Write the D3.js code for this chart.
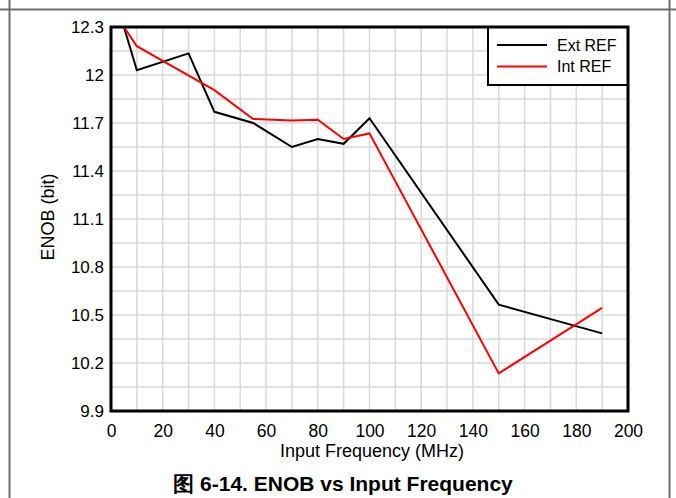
<!DOCTYPE html>
<html>
<head>
<meta charset="utf-8">
<script src="https://cdn.jsdelivr.net/npm/d3@7"></script>
<style>
  body { margin: 0; background: #fff; }
  svg { display: block; font-family: "Liberation Sans", Arial, sans-serif; }
</style>
</head>
<body>
<script>
// chart data
const extFreq = [5, 10, 30, 40, 55, 70, 80, 90, 100, 150, 190];
const extEnob = [12.3, 12.03, 12.135, 11.77, 11.7, 11.55, 11.6, 11.57, 11.73, 10.565, 10.385];
const intFreq = [5, 10, 40, 55, 70, 80, 90, 100, 150, 190];
const intEnob = [12.3, 12.18, 11.905, 11.725, 11.715, 11.72, 11.6, 11.635, 10.135, 10.545];
const xTicks = [0, 20, 40, 60, 80, 100, 120, 140, 160, 180, 200];
const yTicks = [9.9, 10.2, 10.5, 10.8, 11.1, 11.4, 11.7, 12, 12.3];
const seriesNames = ["Ext REF", "Int REF"];
const seriesColors = ["#000000", "#ff0000"];

const width = 676;
const height = 498;
const margin = { top: 27, right: 48, bottom: 87, left: 111 };

let svg = d3.select("body")
    .append("svg")
    .attr("width", width)
    .attr("height", height);

// page frame lines
svg.append("line").attr("x1", 0).attr("x2", width).attr("y1", 9.5).attr("y2", 9.5)
    .attr("stroke", "#6f6f6f").attr("stroke-width", 2);
svg.append("line").attr("x1", 9.5).attr("x2", 9.5).attr("y1", 0).attr("y2", height)
    .attr("stroke", "#6f6f6f").attr("stroke-width", 2);
svg.append("line").attr("x1", 669.5).attr("x2", 669.5).attr("y1", 0).attr("y2", height)
    .attr("stroke", "#6f6f6f").attr("stroke-width", 2);

let xScale = d3.scaleLinear()
    .domain([0, 200])
    .range([margin.left, width - margin.right]);

let yScale = d3.scaleLinear()
    .domain([9.9, 12.3])
    .range([height - margin.bottom, margin.top]);

// grid
let grid = svg.append("g").attr("stroke", "#d9d9d9").attr("stroke-width", 1.5);
grid.selectAll("line.gx")
    .data(d3.range(10, 200, 10))
    .join("line")
    .attr("class", "gx")
    .attr("x1", d => xScale(d)).attr("x2", d => xScale(d))
    .attr("y1", yScale(9.9)).attr("y2", yScale(12.3));
grid.selectAll("line.gy")
    .data(d3.range(1, 16).map(i => 9.9 + i * 0.15))
    .join("line")
    .attr("class", "gy")
    .attr("y1", d => yScale(d)).attr("y2", d => yScale(d))
    .attr("x1", xScale(0)).attr("x2", xScale(200));

// axes
let bottomAxis = d3.axisBottom(xScale).tickValues(xTicks).tickSize(0).tickPadding(14);
let leftAxis = d3.axisLeft(yScale).tickValues(yTicks).tickSize(0).tickPadding(7)
    .tickFormat(d => d3.format("")(+d.toFixed(1)));

svg.append("g")
    .attr("transform", `translate(0, ${height - margin.bottom})`)
    .call(bottomAxis)
    .call(g => g.select(".domain").remove())
    .selectAll("text").style("font-size", "17.5px").attr("fill", "#000");

svg.append("g")
    .attr("transform", `translate(${margin.left}, 0)`)
    .call(leftAxis)
    .call(g => g.select(".domain").remove())
    .selectAll("text").style("font-size", "17px").attr("fill", "#000");

// lines
let line = d3.line().x(d => xScale(d[0])).y(d => yScale(d[1]));
let series = [
    d3.zip(extFreq, extEnob),
    d3.zip(intFreq, intEnob)
];
svg.selectAll("path.series")
    .data(series)
    .join("path")
    .attr("class", "series")
    .attr("d", line)
    .attr("fill", "none")
    .attr("stroke", (d, i) => seriesColors[i])
    .attr("stroke-width", 2);

// legend
let lg = svg.append("g");
lg.append("rect")
    .attr("x", 488).attr("y", margin.top)
    .attr("width", xScale(200) - 488).attr("height", 58)
    .attr("fill", "#fff").attr("stroke", "#000").attr("stroke-width", 2);
seriesNames.forEach((name, i) => {
    let y = 45 + i * 21.5;
    lg.append("line").attr("x1", 497).attr("x2", 547).attr("y1", y).attr("y2", y)
        .attr("stroke", seriesColors[i]).attr("stroke-width", 2);
    lg.append("text").attr("x", 557).attr("y", y + 5.5).text(name)
        .style("font-size", "16px");
});

// plot border
svg.append("rect")
    .attr("x", xScale(0)).attr("y", yScale(12.3))
    .attr("width", xScale(200) - xScale(0))
    .attr("height", yScale(9.9) - yScale(12.3))
    .attr("fill", "none").attr("stroke", "#000").attr("stroke-width", 3);

// titles
svg.append("text")
    .text("Input Frequency (MHz)")
    .style("font-size", "18px")
    .attr("text-anchor", "middle")
    .attr("x", 372).attr("y", 457);

svg.append("text")
    .text("ENOB (bit)")
    .style("font-size", "18px")
    .attr("text-anchor", "middle")
    .attr("transform", `translate(54, ${yScale(11.1) - 2}) rotate(270)`);

svg.append("text")
    .text("图 6-14. ENOB vs Input Frequency")
    .style("font-size", "21px")
    .style("font-weight", "bold")
    .attr("text-anchor", "middle")
    .attr("x", 343).attr("y", 491);
</script>
</body>
</html>
